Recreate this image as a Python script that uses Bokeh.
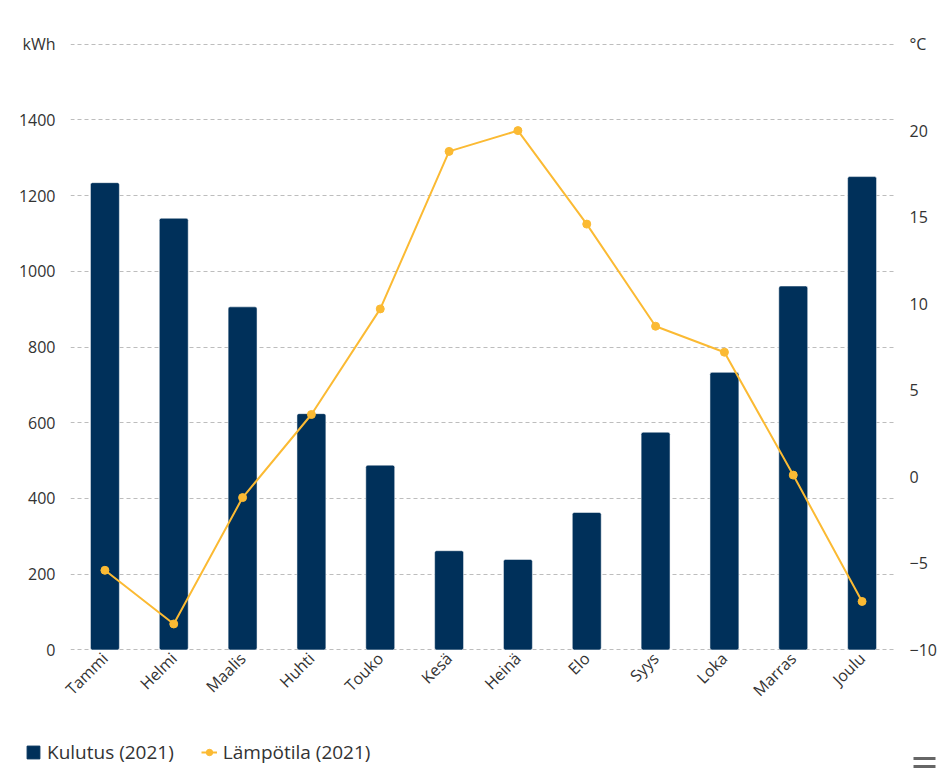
from math import pi
from bokeh.plotting import figure
from bokeh.layouts import column
from bokeh.models import (Range1d, LinearAxis, FixedTicker, FactorRange, Legend,
                          LegendItem, ColumnDataSource)
from bokeh.embed import file_html
from bokeh.resources import INLINE

months = ["Tammi", "Helmi", "Maalis", "Huhti", "Touko", "Kesä",
          "Heinä", "Elo", "Syys", "Loka", "Marras", "Joulu"]
consumption_kwh = [1234, 1140, 906, 624, 488, 262, 239, 363, 575, 733, 961, 1250]
temperature_c = [-5.4, -8.5, -1.2, 3.6, 9.7, 18.8, 20.0, 14.6, 8.7, 7.2, 0.1, -7.2]
kwh_ticks = [0, 200, 400, 600, 800, 1000, 1200, 1400, 1600]
temp_ticks = [-10, -5, 0, 5, 10, 15, 20, 25]
series_names = ["Kulutus (2021)", "Lämpötila (2021)"]

BAR = "#00305A"
LINE = "#FBBA33"
TXT = "#333333"
FONT = "Open Sans"

# ranges (tiny pad so the edge grid lines are drawn)
KMIN, KMAX = 0, 1600
TMIN, TMAX = -10, 25
pad = 1.5
tpad = pad * (TMAX - TMIN) / (KMAX - KMIN)

src = ColumnDataSource(dict(month=months, kwh=consumption_kwh, temp=temperature_c))

p = figure(width=947, height=728, x_range=FactorRange(*months),
           y_range=Range1d(KMIN - pad, KMAX + pad), output_backend="svg",
           toolbar_location=None,
           min_border_left=70, min_border_right=51, min_border_top=43,
           min_border_bottom=78, outline_line_color=None)
p.frame_align = False
p.extra_y_ranges = {"temp": Range1d(TMIN - tpad, TMAX + tpad)}

bars = p.vbar(x="month", top="kwh", width=0.42, source=src, fill_color=BAR,
              line_color="#ffffff", line_width=0.5, border_radius=2)
line = p.line(x="month", y="temp", source=src, y_range_name="temp",
              line_color=LINE, line_width=2)
dots = p.scatter(x="month", y="temp", source=src, y_range_name="temp",
                 size=8, fill_color=LINE, line_color=LINE)

# left axis
ax = p.yaxis[0]
ax.ticker = FixedTicker(ticks=kwh_ticks)
ax.major_label_overrides = {1600: "kWh"}
ax.axis_line_color = None
ax.major_tick_line_color = None
ax.minor_tick_line_color = None
ax.major_tick_out = 0
ax.major_tick_in = 0
ax.major_label_standoff = 15
ax.major_label_text_font = FONT
ax.major_label_text_font_size = "16px"
ax.major_label_text_color = TXT

# right axis
ra = LinearAxis(y_range_name="temp", ticker=FixedTicker(ticks=temp_ticks))
ra.major_label_overrides = {25: "°C", -10: "\u221210", -5: "\u22125"}
ra.axis_line_color = None
ra.major_tick_line_color = None
ra.minor_tick_line_color = None
ra.major_tick_out = 0
ra.major_tick_in = 0
ra.major_label_standoff = 13
ra.major_label_text_font = FONT
ra.major_label_text_font_size = "16px"
ra.major_label_text_color = TXT
p.add_layout(ra, "right")

# x axis
xa = p.xaxis[0]
xa.axis_line_color = None
xa.major_tick_line_color = None
xa.minor_tick_line_color = None
xa.major_tick_out = 0
xa.major_tick_in = 0
xa.major_label_orientation = pi / 4
xa.major_label_standoff = 5
xa.major_label_text_font = FONT
xa.major_label_text_font_size = "16px"
xa.major_label_text_color = TXT

p.xgrid.grid_line_color = None
p.ygrid.grid_line_color = "#bdbdbd"
p.ygrid.grid_line_dash = "4 3"
p.ygrid.grid_line_width = 1

# legend strip below the chart
lg = figure(width=947, height=40, x_range=Range1d(0, 947), y_range=Range1d(0, 40),
            output_backend="svg", toolbar_location=None, min_border=0,
            outline_line_color=None, x_axis_location=None, y_axis_location=None)
lg.frame_align = False
lg.grid.grid_line_color = None
offscreen = ColumnDataSource(dict(x=[-500], y=[-500]))
kb = lg.vbar(x="x", top="y", width=1, source=offscreen, fill_color=BAR, line_color=BAR)
kl = lg.line(x="x", y="y", source=offscreen, line_color=LINE, line_width=2)
kd = lg.scatter(x="x", y="y", source=offscreen, size=8, fill_color=LINE, line_color=LINE)
# export-menu icon (bottom right)
lg.rect(x=[924, 924], y=[10, 2], width=22, height=3, fill_color="#666666",
        line_color=None)

legend = Legend(items=[LegendItem(label=series_names[0], renderers=[kb]),
                       LegendItem(label=series_names[1], renderers=[kl, kd])],
                orientation="horizontal", location=(25, 3),
                label_text_font=FONT, label_text_font_size="19px",
                label_text_color=TXT, border_line_color=None,
                background_fill_alpha=0, glyph_width=16, glyph_height=16,
                spacing=27, padding=2, margin=0, label_standoff=6)
lg.add_layout(legend, "center")

open("out.html", "w").write(file_html(column(p, lg, spacing=0), INLINE))
